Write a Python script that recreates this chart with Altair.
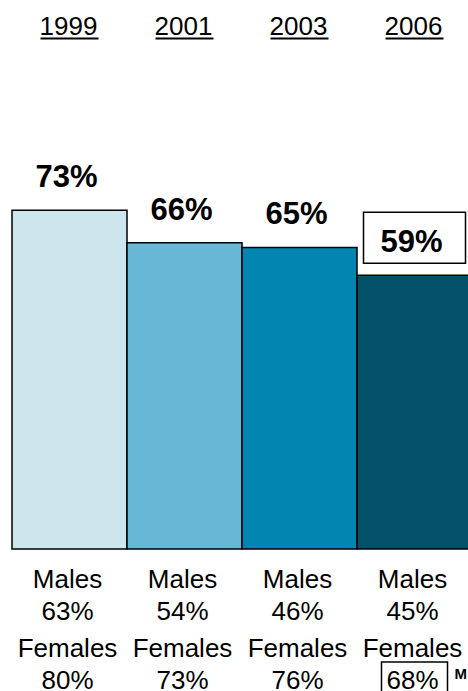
import altair as alt
import pandas as pd

years = ["1999", "2001", "2003", "2006"]
overall = [73, 66, 65, 59]
males = [63, 54, 46, 45]
females = [80, 73, 76, 68]
boxed = [False, False, False, True]

palette = ["#CDE6ED", "#67B8D7", "#0385B1", "#03506B"]

df = pd.DataFrame({
    "year": years,
    "overall": overall,
    "males": males,
    "females": females,
    "boxed": boxed,
})

FONT = "Liberation Sans"

x = alt.X("year:N", axis=None, sort=years,
          scale=alt.Scale(range=[12, 472], paddingInner=0, paddingOuter=0))
yscale = alt.Scale(domain=[0, 100], range=[549, 85])

base = alt.Chart(df)

bars = base.mark_bar(stroke="black", strokeWidth=1.5).encode(
    x=x,
    y=alt.Y("overall:Q", axis=None, scale=yscale),
    color=alt.Color("year:N", scale=alt.Scale(domain=years, range=palette), legend=None),
)

years_text = base.mark_text(font=FONT, fontSize=26, baseline="alphabetic", dx=-1).encode(
    x=x, y=alt.value(35), text="year:N"
)
underline = base.mark_bar(width=58, color="black").encode(
    x=x, y=alt.value(37.5), y2=alt.value(39.5)
)

box59 = base.transform_filter("datum.boxed").transform_calculate(
    top="datum.overall + 13.6", bot="datum.overall + 2.6"
).mark_bar(width=102, fill="white", stroke="black", strokeWidth=1.5).encode(
    x=x,
    y=alt.Y("top:Q", scale=yscale, axis=None),
    y2="bot:Q",
)

val_text = base.transform_calculate(lbl="datum.overall + '%'").mark_text(
    font=FONT, fontSize=31, fontWeight="bold", baseline="alphabetic", dy=-23, dx=-3
).encode(
    x=x, y=alt.Y("overall:Q", scale=yscale, axis=None), text="lbl:N"
)

males_lbl = base.mark_text(font=FONT, fontSize=26, baseline="alphabetic", dx=-2).encode(
    x=x, y=alt.value(588), text=alt.value("Males")
)
males_val = base.transform_calculate(lbl="datum.males + '%'").mark_text(
    font=FONT, fontSize=26, baseline="alphabetic", dx=-2
).encode(x=x, y=alt.value(620), text="lbl:N")

fem_box = base.transform_filter("datum.boxed").mark_bar(
    width=66, fill="white", stroke="black", strokeWidth=1.5
).encode(x=x, y=alt.value(662), y2=alt.value(705))

fem_lbl = base.mark_text(font=FONT, fontSize=26, baseline="alphabetic", dx=-2).encode(
    x=x, y=alt.value(657), text=alt.value("Females")
)
fem_val = base.transform_calculate(lbl="datum.females + '%'").mark_text(
    font=FONT, fontSize=26, baseline="alphabetic", dx=-2
).encode(x=x, y=alt.value(689), text="lbl:N")

m_note = base.transform_filter("datum.boxed").mark_text(
    font=FONT, fontSize=15, fontWeight="bold", baseline="alphabetic", align="left", dx=40
).encode(x=x, y=alt.value(679), text=alt.value("M"))

chart = alt.layer(
    bars, years_text, underline, box59, val_text,
    males_lbl, males_val, fem_box, fem_lbl, fem_val, m_note
).properties(
    width=468, height=691, padding=0, autosize="none"
).configure_view(stroke=None).resolve_scale(color="independent")

chart.save("out.html", embed_options={"renderer": "svg", "actions": False})
